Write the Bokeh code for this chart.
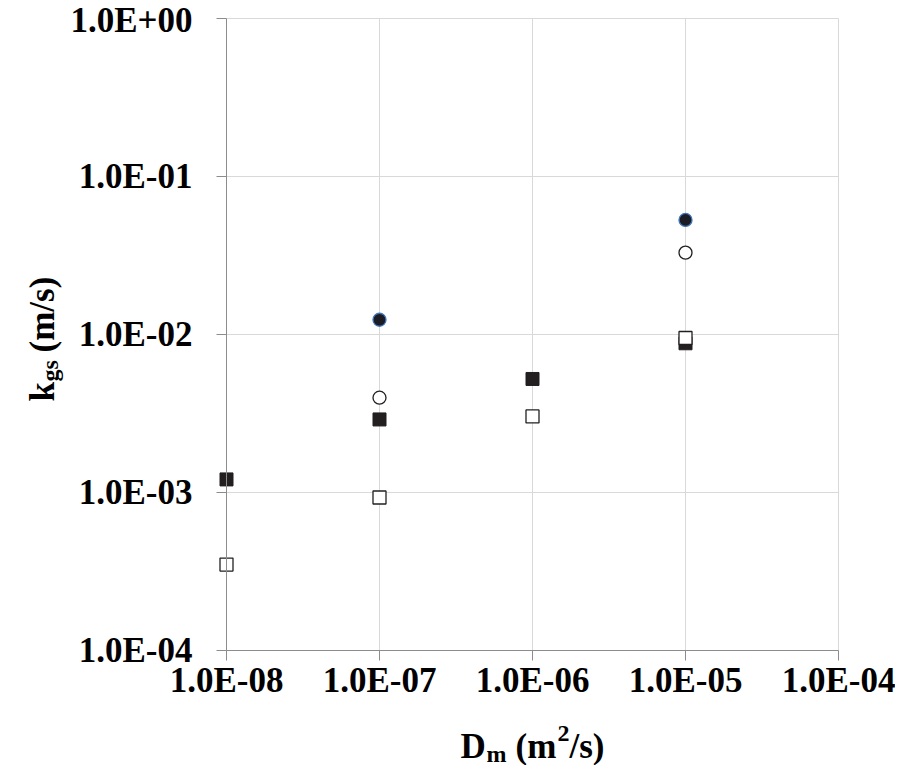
from bokeh.plotting import figure
from bokeh.models import Range1d, FixedTicker, Label
from bokeh.embed import file_html
from bokeh.resources import INLINE
import math

# ---- data ----
x_ticks = [1e-8, 1e-7, 1e-6, 1e-5, 1e-4]
x_tick_labels = ["1.0E-08", "1.0E-07", "1.0E-06", "1.0E-05", "1.0E-04"]
y_ticks = [1e-4, 1e-3, 1e-2, 1e-1, 1e0]
y_tick_labels = ["1.0E-04", "1.0E-03", "1.0E-02", "1.0E-01", "1.0E+00"]

# filled squares
fsq_x = [1e-8, 1e-7, 1e-6, 1e-5]
fsq_y = [0.00121, 0.0029, 0.00523, 0.0088]
# open squares
osq_x = [1e-8, 1e-7, 1e-6, 1e-5]
osq_y = [0.00035, 0.00093, 0.00303, 0.0095]
# filled circles
fci_x = [1e-7, 1e-5]
fci_y = [0.0124, 0.0531]
# open circles
oci_x = [1e-7, 1e-5]
oci_y = [0.00398, 0.033]

FONT = "Liberation Serif"
FS = 35
SUB = 24

W, H = 895, 765
# pixel box of the chart area (1e-8..1e-4, 1e-4..1) inside the canvas
PX0, PX1, PY0, PY1 = 226, 838, 18, 650
XD = x_ticks[0], x_ticks[-1]
YD = y_ticks[0], y_ticks[-1]
lx0, lx1 = math.log10(XD[0]), math.log10(XD[1])
ly0, ly1 = math.log10(YD[0]), math.log10(YD[1])
sx = (lx1 - lx0) / (PX1 - PX0)
sy = (ly1 - ly0) / (PY1 - PY0)

x_range = Range1d(10 ** (lx0 - sx * PX0), 10 ** (lx1 + sx * (W - PX1)))
y_range = Range1d(10 ** (ly0 - sy * (H - PY1)), 10 ** (ly1 + sy * PY0))

p = figure(width=W, height=H, x_axis_type="log", y_axis_type="log",
           x_range=x_range, y_range=y_range,
           output_backend="svg", toolbar_location=None,
           min_border_left=0, min_border_top=0, min_border_right=0, min_border_bottom=0)
p.title.visible = False
p.outline_line_color = None
p.background_fill_color = "white"
p.border_fill_color = "white"
p.grid.visible = False

AX = "#8c8c8c"
GRID = "#d9d9d9"

# grid lines (drawn from the tick arrays)
p.segment(x0=x_ticks, y0=[YD[0]] * len(x_ticks), x1=x_ticks, y1=[YD[1]] * len(x_ticks),
          line_color=GRID, line_width=1)
p.segment(x0=[XD[0]] * len(y_ticks), y0=y_ticks, x1=[XD[1]] * len(y_ticks), y1=y_ticks,
          line_color=GRID, line_width=1)

for ax, ticks, labels in ((p.xaxis[0], x_ticks, x_tick_labels), (p.yaxis[0], y_ticks, y_tick_labels)):
    ax.ticker = FixedTicker(ticks=ticks, minor_ticks=[])
    ax.major_label_overrides = {t: l for t, l in zip(ticks, labels)}
    ax.major_label_text_font = FONT
    ax.major_label_text_font_style = "bold"
    ax.major_label_text_font_size = f"{FS}px"
    ax.major_label_text_color = "black"
    ax.axis_line_color = AX
    ax.major_tick_line_color = AX
    ax.major_tick_out = 10
    ax.major_tick_in = 0
    ax.minor_tick_line_color = None

p.xaxis[0].fixed_location = YD[0]
p.xaxis[0].bounds = XD
p.yaxis[0].fixed_location = XD[0]
p.yaxis[0].bounds = YD
p.yaxis[0].major_label_standoff = 24
p.xaxis[0].major_label_standoff = 0

p.scatter(fsq_x, fsq_y, marker="square", size=13, fill_color="#231f20", line_color="#231f20", line_width=1)
p.scatter(osq_x, osq_y, marker="square", size=13, fill_color="white", line_color="#231f20", line_width=1.3)
p.scatter(oci_x, oci_y, marker="circle", size=13, fill_color="white", line_color="#231f20", line_width=1.3)
p.scatter(fci_x, fci_y, marker="circle", size=13, fill_color="#1c1c24", line_color="#3f74b8", line_width=1.3)

def dx(px):
    return 10 ** (lx0 + sx * (px - PX0))
def dy(py):
    return 10 ** (ly1 - sy * (py - PY0))

def lab(text, px, py, size, angle=0):
    p.add_layout(Label(x=dx(px), y=dy(py), text=text, angle=angle,
                       text_font=FONT, text_font_style="bold", text_font_size=f"{size}px",
                       text_color="black", text_align="left", text_baseline="alphabetic"))

# x-axis title: D_m (m^2/s)
XB = 746
lab("D", 460, XB, FS)
lab("m", 486, XB + 7, SUB)
lab("(m", 515, XB, FS)
lab("2", 557, XB - 13, SUB)
lab("/s)", 569, XB, FS)

# y-axis title: k_gs (m/s), rotated
A = math.pi / 2
lab("k", 42, 401, FS, A)
lab("gs", 49, 381, SUB, A)
lab("(m/s)", 42, 352, FS, A)

open("out.html", "w").write(file_html(p, INLINE))
